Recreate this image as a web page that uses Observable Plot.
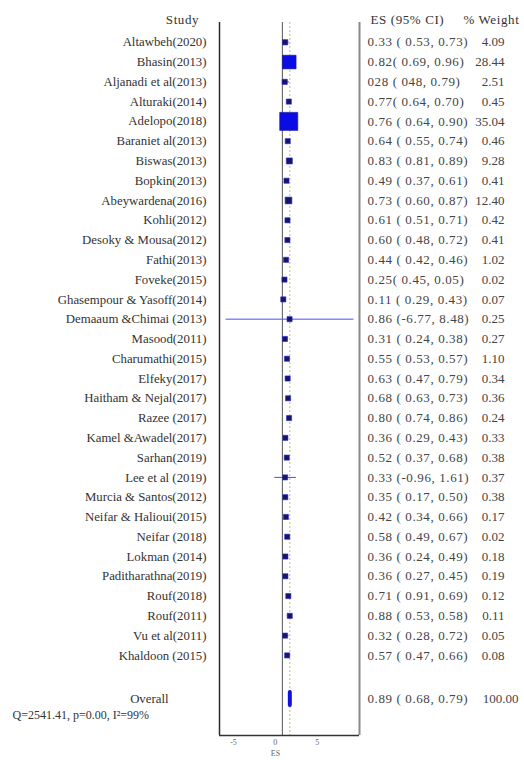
<!DOCTYPE html>
<html><head><meta charset="utf-8">
<script src="https://cdn.jsdelivr.net/npm/d3@7"></script>
<script src="https://cdn.jsdelivr.net/npm/@observablehq/plot@0.6"></script>
<style>
body{margin:0;background:#fff} svg{display:block}
svg text{font-family:"Liberation Serif","DejaVu Serif",serif !important}
g[aria-description="numbers"] text{letter-spacing:0.6px}
g[aria-description="headers"] text{letter-spacing:0.6px}
</style>
</head><body><div id="chart"></div>
<script>
const studies = ["Altawbeh(2020)","Bhasin(2013)","Aljanadi et al(2013)","Alturaki(2014)","Adelopo(2018)","Baraniet al(2013)","Biswas(2013)","Bopkin(2013)","Abeywardena(2016)","Kohli(2012)","Desoky & Mousa(2012)","Fathi(2013)","Foveke(2015)","Ghasempour & Yasoff(2014)","Demaaum &Chimai (2013)","Masood(2011)","Charumathi(2015)","Elfeky(2017)","Haitham & Nejal(2017)","Razee (2017)","Kamel &Awadel(2017)","Sarhan(2019)","Lee et al (2019)","Murcia & Santos(2012)","Neifar & Halioui(2015)","Neifar (2018)","Lokman (2014)","Paditharathna(2019)","Rouf(2018)","Rouf(2011)","Vu et al(2011)","Khaldoon (2015)"];
const esText = ["0.33 ( 0.53, 0.73)","0.82( 0.69, 0.96)","028 ( 048, 0.79)","0.77( 0.64, 0.70)","0.76 ( 0.64, 0.90)","0.64 ( 0.55, 0.74)","0.83 ( 0.81, 0.89)","0.49 ( 0.37, 0.61)","0.73 ( 0.60, 0.87)","0.61 ( 0.51, 0.71)","0.60 ( 0.48, 0.72)","0.44 ( 0.42, 0.46)","0.25( 0.45, 0.05)","0.11 ( 0.29, 0.43)","0.86 (-6.77, 8.48)","0.31 ( 0.24, 0.38)","0.55 ( 0.53, 0.57)","0.63 ( 0.47, 0.79)","0.68 ( 0.63, 0.73)","0.80 ( 0.74, 0.86)","0.36 ( 0.29, 0.43)","0.52 ( 0.37, 0.68)","0.33 (-0.96, 1.61)","0.35 ( 0.17, 0.50)","0.42 ( 0.34, 0.66)","0.58 ( 0.49, 0.67)","0.36 ( 0.24, 0.49)","0.36 ( 0.27, 0.45)","0.71 ( 0.91, 0.69)","0.88 ( 0.53, 0.58)","0.32 ( 0.28, 0.72)","0.57 ( 0.47, 0.66)"];
const es = [0.33,0.82,0.28,0.77,0.76,0.64,0.83,0.49,0.73,0.61,0.60,0.44,0.25,0.11,0.86,0.31,0.55,0.63,0.68,0.80,0.36,0.52,0.33,0.35,0.42,0.58,0.36,0.36,0.71,0.88,0.32,0.57];
const lo = [0.53,0.69,0.48,0.64,0.64,0.55,0.81,0.37,0.60,0.51,0.48,0.42,0.45,0.29,-6.77,0.24,0.53,0.47,0.63,0.74,0.29,0.37,-0.96,0.17,0.34,0.49,0.24,0.27,0.91,0.53,0.28,0.47];
const hi = [0.73,0.96,0.79,0.70,0.90,0.74,0.89,0.61,0.87,0.71,0.72,0.46,0.05,0.43,8.48,0.38,0.57,0.79,0.73,0.86,0.43,0.68,1.61,0.50,0.66,0.67,0.49,0.45,0.69,0.58,0.72,0.66];
const weights = [4.09,28.44,2.51,0.45,35.04,0.46,9.28,0.41,12.40,0.42,0.41,1.02,0.02,0.07,0.25,0.27,1.10,0.34,0.36,0.24,0.33,0.38,0.37,0.38,0.17,0.02,0.18,0.19,0.12,0.11,0.05,0.08];
const overall = {label: "Overall", es: 0.89, lo: 0.68, hi: 0.79, text: "0.89 ( 0.68, 0.79)", weight: "100.00"};
const heterogeneity = "Q=2541.41, p=0.00, I\u00b2=99%";
const headers = {study: "Study", es: "ES (95% CI)", weight: "% Weight"};
const xTicks = [-5, 0, 5];
const xLabel = "ES";

const rows = studies.map((s, i) => ({i, study: s, es: es[i], lo: lo[i], hi: hi[i], w: weights[i], esText: esText[i], wText: weights[i].toFixed(2)}));
const xDomain = [-7.5, 9.2];
const yDomain = [-1, 35.05];
const overallRow = studies.length + 1.2;

const font = "Liberation Serif";
const nameStyle = {fontSize: 12.8, fill: "#333", fontFamily: font};
const numStyle = {fontSize: 13, fill: "#444", fontFamily: font, ariaDescription: "numbers"};
const wStyle = {fontSize: 13, fill: "#444", fontFamily: font};
const headStyle = {fontSize: 13, fill: "#333", fontFamily: font, ariaDescription: "headers"};
const chart = Plot.plot({
  width: 524, height: 775,
  marginLeft: 219, marginRight: 165, marginTop: 22, marginBottom: 40,
  x: {domain: xDomain},
  y: {domain: yDomain, reverse: true, axis: null},
  r: {type: "pow", exponent: 2, domain: [0, 35.04], range: [2.9, 10.2]},
  style: {fontFamily: font, background: "white", color: "#333"},
  marks: [
    Plot.ruleX([0], {stroke: "#555", strokeWidth: 1}),
    Plot.ruleX([overall.es], {stroke: "#b8b890", strokeDasharray: "2,2", strokeWidth: 1}),
    Plot.ruleX([xDomain[0]], {stroke: "#2a2a2a", strokeWidth: 1.5}),
    Plot.ruleX([xDomain[1]], {stroke: "#8a8a8a", strokeWidth: 2}),
    Plot.ruleY([yDomain[1]], {stroke: "#333", strokeWidth: 1.5}),
    Plot.link(rows, {x1: "lo", x2: "hi", y1: "i", y2: "i", stroke: "#4a4aff", strokeWidth: 1}),
    Plot.dot(rows, {filter: d => d.w <= 20, x: "es", y: "i", r: "w", symbol: "square", fill: "#15156a", stroke: "#2a2ad0", strokeWidth: 0.6}),
    Plot.dot(rows, {filter: d => d.w > 20, x: "es", y: "i", r: "w", symbol: "square", fill: "#0b0be6", stroke: "#1a1a90", strokeWidth: 0.6}),
    Plot.ruleX([overall], {x: "es", y1: () => overallRow - 0.33, y2: () => overallRow + 0.33, stroke: "#1010e0", strokeWidth: 4, strokeLinecap: "round"}),
    Plot.text(rows, {y: "i", text: "study", frameAnchor: "left", dx: -13, textAnchor: "end", ...nameStyle}),
    Plot.text([overall], {y: () => overallRow, text: "label", frameAnchor: "left", dx: -51, textAnchor: "end", ...nameStyle}),
    Plot.text(rows, {y: "i", text: "esText", frameAnchor: "right", dx: 8, textAnchor: "start", ...numStyle}),
    Plot.text(rows, {y: "i", text: "wText", frameAnchor: "right", dx: 145, textAnchor: "end", ...wStyle}),
    Plot.text([overall], {y: () => overallRow, text: "text", frameAnchor: "right", dx: 8, textAnchor: "start", ...numStyle}),
    Plot.text([overall], {y: () => overallRow, text: "weight", frameAnchor: "right", dx: 159, textAnchor: "end", ...wStyle}),
    Plot.text([headers.study], {frameAnchor: "top-left", dx: -37, dy: -8, textAnchor: "middle", ...headStyle}),
    Plot.text([headers.es], {frameAnchor: "top-right", dx: 11, dy: -8, textAnchor: "start", ...headStyle}),
    Plot.text([headers.weight], {frameAnchor: "top-right", dx: 104, dy: -8, textAnchor: "start", ...headStyle}),
    Plot.text([heterogeneity], {frameAnchor: "bottom-left", dx: -207, dy: -17, textAnchor: "start", ...nameStyle, fontSize: 12}),
    Plot.axisX({ticks: xTicks, tickSize: 0, tickPadding: 4, dx: -7, fontSize: 8, fill: "#666", fontFamily: font, label: null, tickFormat: d => String(d)}),
    Plot.text([xLabel], {frameAnchor: "bottom", dx: -14, dy: 20, fontSize: 8, fill: "#666", fontFamily: font})
  ]
});
document.getElementById("chart").appendChild(chart);
</script>
</body></html>
